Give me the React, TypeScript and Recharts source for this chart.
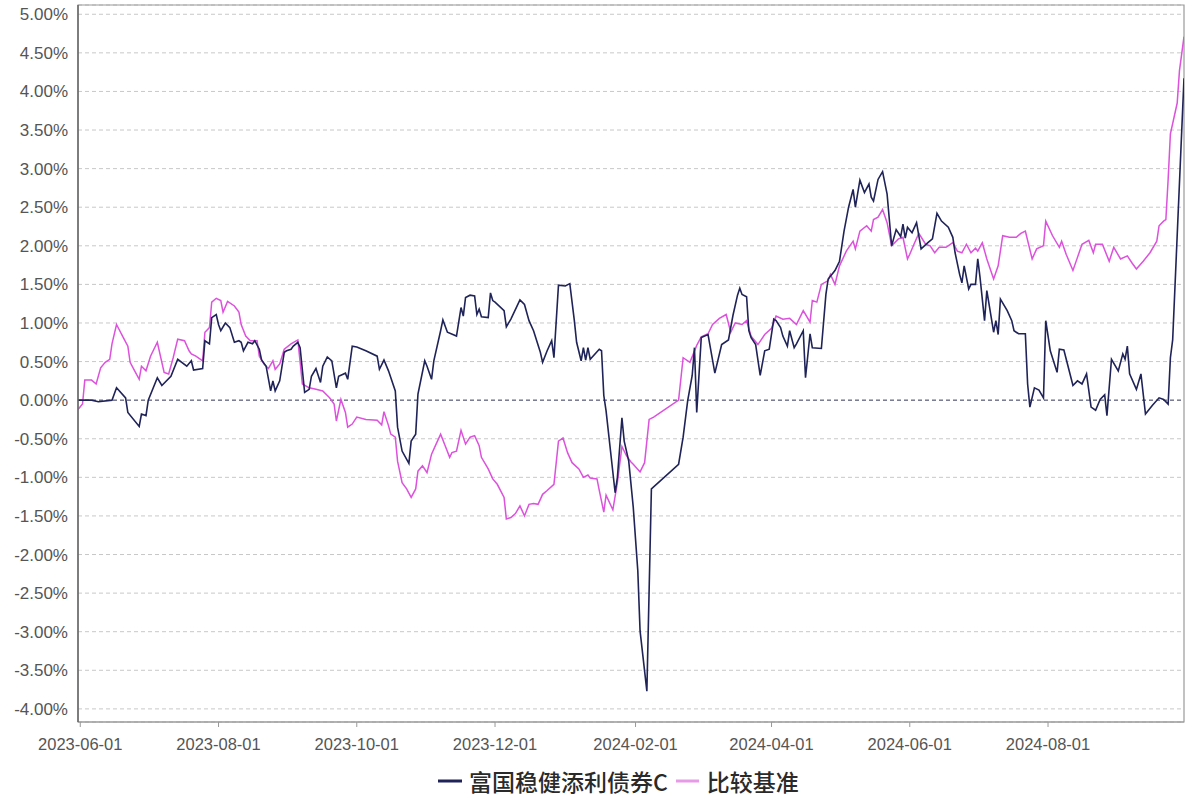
import {
  CartesianGrid,
  Line,
  LineChart,
  ReferenceArea,
  ReferenceLine,
  XAxis,
  YAxis,
} from "recharts";

// 富国稳健添利债券C, cumulative return (%)
const fundDates = [
  "2023-05-31", "2023-06-06", "2023-06-09", "2023-06-15", "2023-06-17", "2023-06-21", "2023-06-22", "2023-06-27",
  "2023-06-28", "2023-06-30", "2023-07-01", "2023-07-05", "2023-07-07", "2023-07-11", "2023-07-14", "2023-07-18",
  "2023-07-20", "2023-07-21", "2023-07-25", "2023-07-26", "2023-07-28", "2023-07-29", "2023-07-31", "2023-08-01",
  "2023-08-02", "2023-08-04", "2023-08-06", "2023-08-08", "2023-08-10", "2023-08-11", "2023-08-12", "2023-08-14",
  "2023-08-16", "2023-08-17", "2023-08-19", "2023-08-20", "2023-08-22", "2023-08-24", "2023-08-25", "2023-08-26",
  "2023-08-28", "2023-08-30", "2023-08-31", "2023-09-02", "2023-09-03", "2023-09-05", "2023-09-06", "2023-09-08",
  "2023-09-10", "2023-09-11", "2023-09-13", "2023-09-15", "2023-09-16", "2023-09-18", "2023-09-20", "2023-09-22",
  "2023-09-23", "2023-09-26", "2023-09-27", "2023-09-29", "2023-10-01", "2023-10-05", "2023-10-10", "2023-10-11",
  "2023-10-13", "2023-10-15", "2023-10-18", "2023-10-19", "2023-10-21", "2023-10-24", "2023-10-25", "2023-10-27",
  "2023-10-28", "2023-10-31", "2023-11-01", "2023-11-03", "2023-11-04", "2023-11-07", "2023-11-08", "2023-11-10",
  "2023-11-14", "2023-11-16", "2023-11-17", "2023-11-18", "2023-11-20", "2023-11-22", "2023-11-23", "2023-11-24",
  "2023-11-25", "2023-11-28", "2023-11-29", "2023-11-30", "2023-12-01", "2023-12-05", "2023-12-06", "2023-12-08",
  "2023-12-12", "2023-12-14", "2023-12-16", "2023-12-18", "2023-12-21", "2023-12-22", "2023-12-24", "2023-12-26",
  "2023-12-27", "2023-12-29", "2024-01-01", "2024-01-03", "2024-01-05", "2024-01-06", "2024-01-08", "2024-01-09",
  "2024-01-10", "2024-01-11", "2024-01-12", "2024-01-16", "2024-01-17", "2024-01-18", "2024-01-19", "2024-01-23",
  "2024-01-24", "2024-01-26", "2024-01-27", "2024-01-29", "2024-01-31", "2024-02-02", "2024-02-03", "2024-02-06",
  "2024-02-08", "2024-02-20", "2024-02-22", "2024-02-24", "2024-02-26", "2024-02-27", "2024-02-28", "2024-03-01",
  "2024-03-04", "2024-03-07", "2024-03-10", "2024-03-13", "2024-03-15", "2024-03-17", "2024-03-18", "2024-03-19",
  "2024-03-21", "2024-03-22", "2024-03-23", "2024-03-25", "2024-03-27", "2024-03-29", "2024-03-31", "2024-04-02",
  "2024-04-03", "2024-04-05", "2024-04-06", "2024-04-08", "2024-04-09", "2024-04-11", "2024-04-12", "2024-04-15",
  "2024-04-16", "2024-04-18", "2024-04-19", "2024-04-23", "2024-04-25", "2024-04-26", "2024-04-29", "2024-05-01",
  "2024-05-03", "2024-05-05", "2024-05-07", "2024-05-08", "2024-05-10", "2024-05-12", "2024-05-14", "2024-05-15",
  "2024-05-16", "2024-05-18", "2024-05-20", "2024-05-22", "2024-05-24", "2024-05-26", "2024-05-28", "2024-05-29",
  "2024-05-30", "2024-05-31", "2024-06-02", "2024-06-04", "2024-06-06", "2024-06-09", "2024-06-11", "2024-06-13",
  "2024-06-15", "2024-06-18", "2024-06-20", "2024-06-21", "2024-06-23", "2024-06-24", "2024-06-25", "2024-06-27",
  "2024-06-28", "2024-06-30", "2024-07-01", "2024-07-02", "2024-07-04", "2024-07-05", "2024-07-08", "2024-07-09",
  "2024-07-10", "2024-07-11", "2024-07-14", "2024-07-16", "2024-07-17", "2024-07-19", "2024-07-22", "2024-07-23",
  "2024-07-24", "2024-07-26", "2024-07-28", "2024-07-30", "2024-07-31", "2024-08-02", "2024-08-05", "2024-08-06",
  "2024-08-08", "2024-08-10", "2024-08-12", "2024-08-14", "2024-08-16", "2024-08-18", "2024-08-20", "2024-08-22",
  "2024-08-24", "2024-08-26", "2024-08-27", "2024-08-29", "2024-09-01", "2024-09-03", "2024-09-04", "2024-09-05",
  "2024-09-06", "2024-09-09", "2024-09-11", "2024-09-13", "2024-09-16", "2024-09-19", "2024-09-21", "2024-09-23",
  "2024-09-24", "2024-09-25", "2024-09-30",
];
const fundValues = [
  0.0, 0.0, -0.02, 0.0, 0.16, 0.03, -0.16, -0.34,
  -0.18, -0.2, 0.0, 0.29, 0.19, 0.31, 0.53, 0.44,
  0.51, 0.39, 0.41, 0.77, 0.73, 1.07, 1.11, 0.98,
  0.9, 1.0, 0.94, 0.75, 0.77, 0.75, 0.64, 0.75,
  0.73, 0.77, 0.66, 0.52, 0.44, 0.12, 0.25, 0.12,
  0.25, 0.62, 0.64, 0.66, 0.7, 0.75, 0.68, 0.1,
  0.14, 0.31, 0.41, 0.23, 0.44, 0.56, 0.51, 0.16,
  0.31, 0.35, 0.27, 0.7, 0.69, 0.64, 0.57, 0.4,
  0.52, 0.38, 0.12, -0.35, -0.66, -0.82, -0.53, -0.44,
  0.08, 0.51, 0.44, 0.27, 0.51, 0.9, 1.04, 0.88,
  0.83, 1.2, 1.09, 1.33, 1.36, 1.35, 1.11, 1.18,
  1.08, 1.07, 1.39, 1.29, 1.27, 1.16, 0.95, 1.05,
  1.3, 1.24, 1.03, 0.9, 0.62, 0.49, 0.64, 0.77,
  0.55, 1.49, 1.48, 1.51, 1.03, 0.75, 0.51, 0.68,
  0.52, 0.68, 0.53, 0.66, 0.64, 0.06, -0.14, -1.2,
  -1.0, -0.23, -0.53, -0.79, -1.39, -2.21, -2.99, -3.77,
  -1.15, -0.83, -0.48, -0.01, 0.32, 0.68, -0.16, 0.81,
  0.85, 0.35, 0.72, 0.78, 1.1, 1.36, 1.45, 1.37,
  1.34, 0.9, 0.81, 0.72, 0.32, 0.64, 0.66, 1.05,
  1.03, 0.94, 0.83, 0.7, 0.9, 0.68, 0.73, 0.9,
  0.29, 0.86, 0.68, 0.67, 1.37, 1.57, 1.68, 1.8,
  2.19, 2.5, 2.73, 2.5, 2.85, 2.69, 2.8, 2.63,
  2.58, 2.86, 2.96, 2.67, 2.0, 2.21, 2.12, 2.28,
  2.1, 2.24, 2.17, 2.3, 1.96, 2.04, 2.09, 2.42,
  2.32, 2.24, 2.11, 1.91, 1.63, 1.52, 1.74, 1.44,
  1.5, 1.5, 1.83, 1.59, 1.03, 1.42, 0.88, 1.03,
  0.85, 1.31, 1.16, 1.03, 0.9, 0.86, 0.86, 0.21,
  -0.09, 0.16, 0.13, 0.03, 1.03, 0.64, 0.36, 0.66,
  0.65, 0.42, 0.19, 0.25, 0.21, 0.34, -0.09, -0.13,
  0.01, 0.07, -0.2, 0.53, 0.38, 0.6, 0.53, 0.7,
  0.34, 0.14, 0.34, -0.18, -0.07, 0.03, 0.01, -0.05,
  0.55, 0.78, 4.17,
];

// 比较基准, cumulative return (%)
const benchDates = [
  "2023-05-31", "2023-06-02", "2023-06-03", "2023-06-06", "2023-06-08", "2023-06-10", "2023-06-12", "2023-06-14",
  "2023-06-15", "2023-06-17", "2023-06-20", "2023-06-22", "2023-06-23", "2023-06-25", "2023-06-27", "2023-06-28",
  "2023-06-30", "2023-07-02", "2023-07-05", "2023-07-08", "2023-07-10", "2023-07-12", "2023-07-14", "2023-07-17",
  "2023-07-19", "2023-07-20", "2023-07-22", "2023-07-25", "2023-07-26", "2023-07-28", "2023-07-29", "2023-07-31",
  "2023-08-02", "2023-08-03", "2023-08-05", "2023-08-08", "2023-08-10", "2023-08-11", "2023-08-13", "2023-08-15",
  "2023-08-18", "2023-08-19", "2023-08-21", "2023-08-23", "2023-08-25", "2023-08-26", "2023-08-28", "2023-08-30",
  "2023-09-02", "2023-09-05", "2023-09-07", "2023-09-10", "2023-09-13", "2023-09-16", "2023-09-19", "2023-09-21",
  "2023-09-22", "2023-09-24", "2023-09-26", "2023-09-27", "2023-09-29", "2023-10-01", "2023-10-05", "2023-10-10",
  "2023-10-12", "2023-10-13", "2023-10-15", "2023-10-16", "2023-10-18", "2023-10-19", "2023-10-21", "2023-10-23",
  "2023-10-25", "2023-10-27", "2023-10-28", "2023-10-30", "2023-11-01", "2023-11-03", "2023-11-05", "2023-11-07",
  "2023-11-09", "2023-11-11", "2023-11-12", "2023-11-14", "2023-11-16", "2023-11-18", "2023-11-20", "2023-11-22",
  "2023-11-24", "2023-11-25", "2023-11-28", "2023-11-30", "2023-12-02", "2023-12-05", "2023-12-06", "2023-12-08",
  "2023-12-10", "2023-12-12", "2023-12-14", "2023-12-16", "2023-12-18", "2023-12-20", "2023-12-22", "2023-12-24",
  "2023-12-27", "2023-12-29", "2023-12-31", "2024-01-02", "2024-01-04", "2024-01-07", "2024-01-09", "2024-01-11",
  "2024-01-12", "2024-01-15", "2024-01-16", "2024-01-18", "2024-01-19", "2024-01-22", "2024-01-24", "2024-01-26",
  "2024-01-28", "2024-01-30", "2024-01-31", "2024-02-03", "2024-02-05", "2024-02-07", "2024-02-09", "2024-02-20",
  "2024-02-22", "2024-02-25", "2024-02-28", "2024-03-01", "2024-03-04", "2024-03-06", "2024-03-09", "2024-03-12",
  "2024-03-14", "2024-03-16", "2024-03-19", "2024-03-21", "2024-03-23", "2024-03-26", "2024-03-29", "2024-04-01",
  "2024-04-03", "2024-04-06", "2024-04-09", "2024-04-12", "2024-04-15", "2024-04-18", "2024-04-19", "2024-04-21",
  "2024-04-23", "2024-04-26", "2024-04-27", "2024-04-29", "2024-05-01", "2024-05-04", "2024-05-07", "2024-05-08",
  "2024-05-10", "2024-05-13", "2024-05-15", "2024-05-16", "2024-05-18", "2024-05-20", "2024-05-22", "2024-05-24",
  "2024-05-27", "2024-05-29", "2024-05-31", "2024-06-01", "2024-06-03", "2024-06-05", "2024-06-08", "2024-06-10",
  "2024-06-12", "2024-06-14", "2024-06-17", "2024-06-20", "2024-06-22", "2024-06-24", "2024-06-26", "2024-06-28",
  "2024-06-30", "2024-07-01", "2024-07-03", "2024-07-05", "2024-07-08", "2024-07-10", "2024-07-12", "2024-07-15",
  "2024-07-18", "2024-07-20", "2024-07-22", "2024-07-25", "2024-07-27", "2024-07-30", "2024-07-31", "2024-08-03",
  "2024-08-06", "2024-08-07", "2024-08-09", "2024-08-12", "2024-08-14", "2024-08-16", "2024-08-19", "2024-08-21",
  "2024-08-22", "2024-08-25", "2024-08-28", "2024-08-30", "2024-09-02", "2024-09-05", "2024-09-07", "2024-09-09",
  "2024-09-12", "2024-09-15", "2024-09-18", "2024-09-19", "2024-09-21", "2024-09-22", "2024-09-23", "2024-09-24",
  "2024-09-27", "2024-09-28", "2024-09-30",
];
const benchValues = [
  -0.12, -0.05, 0.26, 0.26, 0.21, 0.42, 0.49, 0.53,
  0.73, 0.98, 0.81, 0.7, 0.49, 0.38, 0.27, 0.44,
  0.38, 0.57, 0.75, 0.36, 0.34, 0.55, 0.79, 0.77,
  0.64, 0.6, 0.57, 0.51, 0.88, 0.94, 1.27, 1.32,
  1.29, 1.14, 1.28, 1.22, 1.14, 0.98, 0.83, 0.77,
  0.77, 0.57, 0.47, 0.41, 0.51, 0.4, 0.47, 0.66,
  0.73, 0.78, 0.21, 0.16, 0.14, 0.12, 0.03, -0.05,
  -0.27, 0.01, -0.16, -0.35, -0.31, -0.22, -0.25, -0.26,
  -0.32, -0.15, -0.33, -0.44, -0.48, -0.79, -1.07, -1.15,
  -1.26, -1.15, -0.92, -0.85, -0.94, -0.7, -0.57, -0.44,
  -0.59, -0.74, -0.68, -0.66, -0.39, -0.57, -0.48, -0.46,
  -0.59, -0.74, -0.89, -1.02, -1.09, -1.26, -1.54, -1.52,
  -1.47, -1.37, -1.5, -1.35, -1.34, -1.35, -1.22, -1.17,
  -1.09, -0.53, -0.49, -0.68, -0.81, -0.89, -1.0, -0.97,
  -1.01, -1.02, -1.17, -1.45, -1.23, -1.42, -1.07, -0.6,
  -0.72, -0.8, -0.83, -0.93, -0.81, -0.25, -0.22, 0.0,
  0.55, 0.49, 0.71, 0.82, 0.86, 0.98, 1.06, 1.11,
  0.88, 1.0, 0.98, 1.03, 0.83, 0.72, 0.85, 0.93,
  1.09, 1.05, 1.06, 0.98, 1.16, 1.01, 1.29, 1.27,
  1.5, 1.55, 1.63, 1.5, 1.74, 1.93, 2.06, 1.96,
  2.19, 2.26, 2.19, 2.34, 2.37, 2.47, 2.3, 2.0,
  2.09, 2.11, 1.83, 1.89, 2.03, 2.16, 2.02, 2.0,
  1.91, 1.98, 1.98, 2.04, 1.93, 1.91, 2.02, 1.91,
  1.97, 1.93, 2.04, 1.83, 1.57, 1.74, 2.13, 2.11,
  2.11, 2.16, 2.19, 1.83, 1.96, 2.0, 2.32, 2.13,
  1.98, 2.06, 1.89, 1.68, 1.85, 2.02, 2.07, 1.91,
  2.02, 2.02, 1.8, 1.98, 1.83, 1.87, 1.78, 1.7,
  1.8, 1.91, 2.06, 2.26, 2.32, 2.34, 2.86, 3.45,
  3.85, 4.27, 4.71,
];

const xTicks = [
  "2023-06-01", "2023-08-01", "2023-10-01", "2023-12-01",
  "2024-02-01", "2024-04-01", "2024-06-01", "2024-08-01",
];
const yTicks = [-4, -3.5, -3, -2.5, -2, -1.5, -1, -0.5, 0, 0.5, 1, 1.5, 2, 2.5, 3, 3.5, 4, 4.5, 5];

const seriesNames = ["富国稳健添利债券C", "比较基准"];

const toTime = (s: string) => Date.parse(s + "T00:00:00Z");
const fmtDate = (t: number) => new Date(t).toISOString().slice(0, 10);

const fundData = fundDates.map((d, i) => ({ t: toTime(d), v: fundValues[i] }));
const benchData = benchDates.map((d, i) => ({ t: toTime(d), v: benchValues[i] }));

const xStart = toTime("2023-05-31");
const xEnd = toTime("2024-09-30");
const yMin = -4.17;
const yMax = 5.12;

const NAVY = "#1f2358";
const PINK = "#dc52dc";
const FONT = '"Liberation Sans", Arial, sans-serif';

export default function App() {
  return (
    <div
      style={{
        position: "absolute",
        left: 0,
        top: 0,
        width: 1187,
        height: 796,
        background: "#fff",
      }}
    >
      <LineChart
        width={1187}
        height={796}
        margin={{ top: 5, right: 3, bottom: 44, left: 0 }}
      >
        <CartesianGrid
          vertical={false}
          stroke="#c8c8c8"
          strokeDasharray="4 3"
        />
        <XAxis
          dataKey="t"
          type="number"
          scale="time"
          domain={[xStart, xEnd]}
          ticks={xTicks.map(toTime)}
          tickFormatter={fmtDate}
          allowDataOverflow
          height={30}
          tickSize={5}
          tickMargin={11}
          stroke="#999"
          tick={{ fill: "#555", fontSize: 16.5, fontFamily: FONT }}
        />
        <YAxis
          type="number"
          domain={[yMin, yMax]}
          ticks={yTicks}
          allowDataOverflow
          interval={0}
          width={78}
          tickLine={false}
          tickMargin={4}
          axisLine={{ stroke: "#666", strokeWidth: 1.5 }}
          tickFormatter={(v: number) => v.toFixed(2) + "%"}
          tick={{ fill: "#555", fontSize: 17, fontFamily: FONT }}
        />
        <ReferenceArea
          x1={xStart}
          x2={xEnd}
          y1={yMin}
          y2={yMax}
          fill="none"
          stroke="#9a9a9a"
          strokeWidth={1.2}
          ifOverflow="visible"
        />
        <ReferenceLine y={0} stroke="#4a4c70" strokeDasharray="4 3" />
        <Line
          data={benchData}
          dataKey="v"
          name={seriesNames[1]}
          stroke={PINK}
          strokeWidth={1.5}
          dot={false}
          isAnimationActive={false}
        />
        <Line
          data={fundData}
          dataKey="v"
          name={seriesNames[0]}
          stroke={NAVY}
          strokeWidth={1.6}
          dot={false}
          isAnimationActive={false}
        />
      </LineChart>
      <div
        style={{
          position: "absolute",
          left: 438,
          top: 768,
          height: 26,
          display: "flex",
          alignItems: "center",
          fontFamily: '"Noto Sans CJK SC", sans-serif',
          fontSize: 23,
          fontWeight: 500,
          color: "#2a2a2a",
          lineHeight: "26px",
          whiteSpace: "nowrap",
        }}
      >
        <svg width={24} height={4} style={{ marginRight: 7 }}>
          <line x1={0} y1={2} x2={24} y2={2} stroke={NAVY} strokeWidth={3} />
        </svg>
        <span style={{ marginRight: 8 }}>{seriesNames[0]}</span>
        <svg width={23} height={4} style={{ marginRight: 8 }}>
          <line x1={0} y1={2} x2={23} y2={2} stroke="#e79be7" strokeWidth={3} />
        </svg>
        <span>{seriesNames[1]}</span>
      </div>
    </div>
  );
}
